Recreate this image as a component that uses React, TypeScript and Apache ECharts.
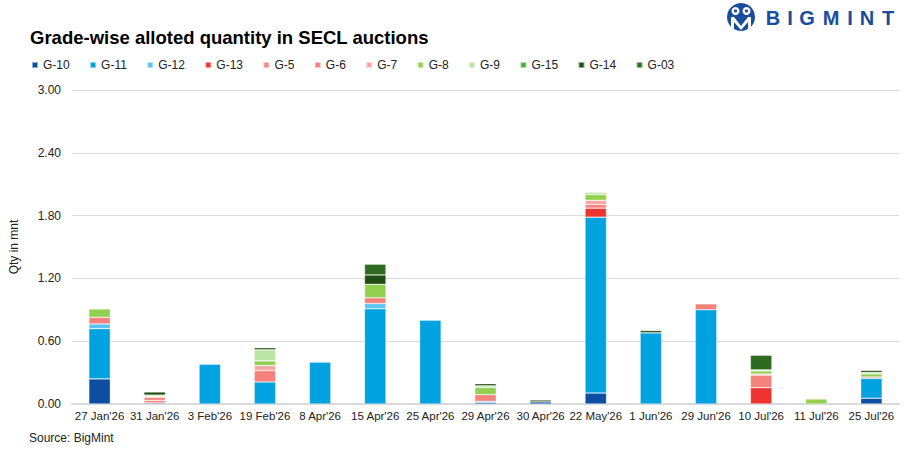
import { useEffect, useRef } from 'react';
import * as echarts from 'echarts';

const categories = [
  "27 Jan'26", "31 Jan'26", "3 Feb'26", "19 Feb'26", "8 Apr'26", "15 Apr'26", "25 Apr'26",
  "29 Apr'26", "30 Apr'26", "22 May'26", "1 Jun'26", "29 Jun'26", "10 Jul'26", "11 Jul'26", "25 Jul'26",
];

const grades = ['G-10', 'G-11', 'G-12', 'G-13', 'G-5', 'G-6', 'G-7', 'G-8', 'G-9', 'G-15', 'G-14', 'G-03'];

const gradeColors = [
  '#0b4ea2', '#00a2e0', '#5ac4f2', '#ee3431', '#f5857f', '#f4817b',
  '#f4a6a3', '#92d050', '#b9e4a1', '#4aab3a', '#1f4d13', '#2e6a1f',
];

const g10 = [0.24, 0.01, 0, 0, 0, 0, 0, 0.015, 0.02, 0.105, 0, 0, 0, 0, 0.055];
const g11 = [0.48, 0, 0.38, 0.21, 0.4, 0.91, 0.8, 0.01, 0, 1.68, 0.68, 0.9, 0, 0, 0.19];
const g12 = [0.045, 0, 0, 0, 0, 0.05, 0, 0, 0, 0, 0, 0, 0, 0, 0];
const g13 = [0, 0, 0, 0, 0, 0, 0, 0, 0, 0.086, 0, 0, 0.156, 0, 0];
const g5 = [0, 0.025, 0, 0, 0, 0, 0, 0, 0, 0, 0, 0, 0, 0, 0];
const g6 = [0.063, 0.03, 0, 0.11, 0, 0.055, 0, 0.064, 0, 0.035, 0, 0.057, 0.12, 0, 0.013];
const g7 = [0, 0.005, 0, 0.047, 0, 0, 0, 0, 0, 0.04, 0, 0, 0.01, 0, 0];
const g8 = [0.08, 0, 0, 0.045, 0, 0.128, 0, 0.07, 0, 0.055, 0, 0, 0.03, 0.048, 0.03];
const g9 = [0, 0.015, 0, 0.105, 0, 0, 0, 0.015, 0, 0.022, 0, 0, 0.01, 0, 0.013];
const g15 = [0, 0, 0, 0, 0, 0, 0, 0, 0, 0, 0, 0, 0, 0, 0];
const g14 = [0, 0.03, 0, 0.02, 0, 0.09, 0, 0.02, 0.018, 0, 0.022, 0, 0, 0, 0.02];
const g03 = [0, 0, 0, 0, 0, 0.103, 0, 0, 0, 0, 0, 0, 0.14, 0, 0];

const gradeValues = [g10, g11, g12, g13, g5, g6, g7, g8, g9, g15, g14, g03];

const yTicks = [0, 0.6, 1.2, 1.8, 2.4, 3.0];

const FONT = 'Arial, "Liberation Sans", sans-serif';
const LOGO_BLUE = '#1a4d9e';

const logoLetters = ['B', 'I', 'G', 'M', 'I', 'N', 'T'];
const logoLetterX = [773, 790, 807, 831, 850, 867, 888];

export default function App() {
  const chartRef = useRef<HTMLDivElement>(null);

  useEffect(() => {
    document.body.style.margin = '0';
    if (!chartRef.current) return;
    const chart = echarts.init(chartRef.current, undefined, { renderer: 'svg' });

    const series = grades.map((name, i) => ({
      name,
      type: 'bar' as const,
      stack: 'total',
      barWidth: '39%',
      itemStyle: {
        color: gradeColors[i],
        borderColor: 'rgba(255,255,255,0.55)',
        borderWidth: 0.6,
      },
      data: gradeValues[i].map(v => (v === 0 ? null : v)),
    }));

    const option: echarts.EChartsOption = {
      animation: false,
      backgroundColor: '#fff',
      textStyle: { fontFamily: FONT },
      title: {
        text: 'Grade-wise alloted quantity in SECL auctions',
        left: 25,
        top: 23,
        textStyle: { fontSize: 18.5, fontWeight: 'bold', color: '#000', fontFamily: FONT },
      },
      legend: {
        data: grades,
        left: 26,
        top: 54,
        icon: 'rect',
        itemWidth: 6,
        itemHeight: 6,
        itemGap: 19.4,
        textStyle: { fontSize: 12, color: '#222', fontFamily: FONT },
      },
      grid: { left: 63, right: 7, top: 90, bottom: 49 },
      xAxis: {
        type: 'category',
        data: categories,
        axisLine: { lineStyle: { color: '#d9d9d9', width: 2 } },
        axisTick: { show: false },
        axisLabel: { color: '#222', fontSize: 11.5, margin: 6, interval: 0 },
      },
      yAxis: {
        type: 'value',
        min: yTicks[0],
        max: yTicks[yTicks.length - 1],
        interval: yTicks[1] - yTicks[0],
        name: 'Qty in mnt',
        nameLocation: 'middle',
        nameGap: 52,
        nameTextStyle: { fontSize: 12, color: '#222' },
        axisLine: { show: false },
        axisTick: { show: false },
        axisLabel: { color: '#222', fontSize: 12, margin: 11, formatter: (v: number) => v.toFixed(2) },
        splitLine: { lineStyle: { color: '#d9d9d9', width: 1 } },
      },
      series,
      graphic: [
        {
          type: 'text',
          left: 29,
          top: 432,
          style: { text: 'Source: BigMint', fontSize: 12, fill: '#222', fontFamily: FONT },
        },
        // logo mark
        { type: 'circle', shape: { cx: 741, cy: 17, r: 14 }, style: { fill: LOGO_BLUE } },
        { type: 'circle', shape: { cx: 735.5, cy: 11, r: 4 }, style: { fill: '#fff' } },
        { type: 'circle', shape: { cx: 746.5, cy: 11, r: 4 }, style: { fill: '#fff' } },
        { type: 'circle', shape: { cx: 735.5, cy: 11, r: 1.6 }, style: { fill: LOGO_BLUE } },
        { type: 'circle', shape: { cx: 746.5, cy: 11, r: 1.6 }, style: { fill: LOGO_BLUE } },
        {
          type: 'polygon',
          shape: { points: [[731, 17], [734, 17], [741, 26], [748, 17], [751, 17], [751, 29], [748, 29], [748, 22], [741, 30], [734, 22], [734, 29], [731, 29]] },
          style: { fill: '#fff' },
        },
        ...logoLetters.map((ch, i) => ({
          type: 'text' as const,
          x: logoLetterX[i],
          y: 18,
          style: {
            text: ch,
            fontSize: 20,
            fontWeight: 'bold' as const,
            fill: LOGO_BLUE,
            fontFamily: FONT,
            align: 'center' as const,
            verticalAlign: 'middle' as const,
          },
        })),
      ],
    };

    chart.setOption(option);
    return () => {
      chart.dispose();
    };
  }, []);

  return <div ref={chartRef} style={{ width: '906px', height: '453px' }} />;
}
